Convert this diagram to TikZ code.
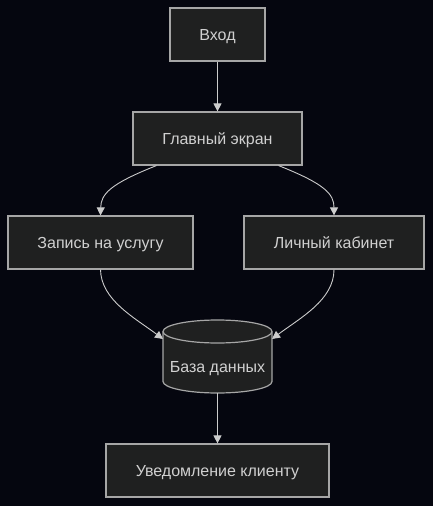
\documentclass[tikz,border=0pt]{standalone}
\usepackage{fontspec}
\setmainfont{Liberation Sans}
\usetikzlibrary{arrows.meta}
\definecolor{bg}{HTML}{05060F}
\definecolor{boxfill}{HTML}{1F2020}
\definecolor{boxline}{HTML}{A6A6A6}
\definecolor{txt}{HTML}{D0D0D0}
\definecolor{edge}{HTML}{CCCCCC}
\begin{document}
\begin{tikzpicture}[x=1pt,y=-1pt,
  lbl/.style={text=txt, font=\fontsize{16}{19}\selectfont, text height=12pt, text depth=0pt},
  box/.style={lbl, draw=boxline, fill=boxfill, line width=1.2pt, inner sep=0pt},
  conn/.style={draw=edge, line width=0.9pt, -{Triangle[length=8pt,width=8pt]}}]
\fill[bg] (0,0) rectangle (433,506);
\useasboundingbox (0,0) rectangle (433,506);
\node[box, minimum width=95pt, minimum height=53pt] (a) at (217.5,34.5) {Вход};
\node[box, minimum width=169pt, minimum height=53pt] (b) at (217.5,138.5) {Главный экран};
\node[box, minimum width=185pt, minimum height=53pt] (c) at (100.5,242.5) {Запись на услугу};
\node[box, minimum width=180pt, minimum height=53pt] (d) at (334,242.5) {Личный кабинет};
\node[box, minimum width=223pt, minimum height=53pt] (e) at (217.5,470.5) {Уведомление клиенту};
% cylinder
\draw[draw=boxline, fill=boxfill, line width=1.2pt]
  (163,331.5) -- (163,381.5) arc[start angle=180, end angle=0, x radius=54.5, y radius=11.5]
  -- (272,331.5) arc[start angle=0, end angle=-180, x radius=54.5, y radius=11.5] -- cycle;
\draw[draw=boxline, line width=1.2pt] (163,331.5) arc[start angle=180, end angle=0, x radius=54.5, y radius=11.5];
\node[minimum width=109pt, minimum height=73pt, inner sep=0pt] (db) at (217.5,356.5) {};
\node[lbl, inner sep=0pt] (dbl) at (217.5,366) {База данных};
\coordinate (dbw) at (163,339);
\coordinate (dbe) at (272,339);
% connectors
\draw[conn] (a) -- (b);
\draw[conn] ([xshift=24pt]b.south west) .. controls (110,184) and (101,194) .. (c.north);
\draw[conn] ([xshift=-24pt]b.south east) .. controls (325,184) and (334,194) .. (d.north);
\draw[conn] (c.south) .. controls (101,300) and (135,318) .. (dbw);
\draw[conn] (d.south) .. controls (334,300) and (300,318) .. (dbe);
\draw[conn] (db.south) -- (e.north);
\end{tikzpicture}
\end{document}
